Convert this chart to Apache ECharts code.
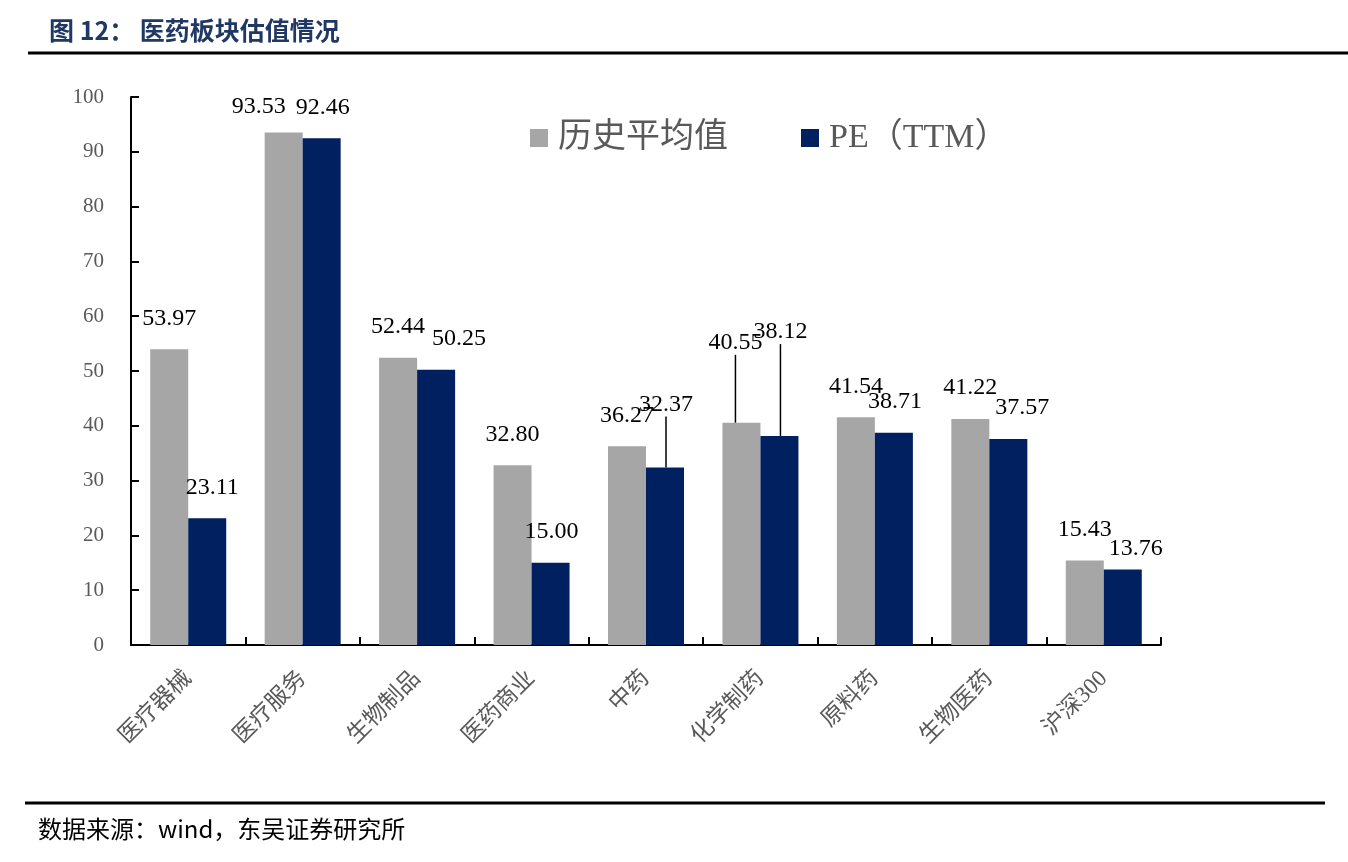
<!DOCTYPE html>
<html>
<head>
<meta charset="utf-8">
<script src="https://cdn.jsdelivr.net/npm/echarts@6/dist/echarts.min.js"></script>
<style>
html,body{margin:0;padding:0;background:#fff;}
#main{width:1348px;height:862px;}
</style>
</head>
<body>
<div id="main"></div>
<script>
var categories = ['医疗器械', '医疗服务', '生物制品', '医药商业', '中药', '化学制药', '原料药', '生物医药', '沪深300'];
var histAvg = [53.97, 93.53, 52.44, 32.80, 36.27, 40.55, 41.54, 41.22, 15.43];
var peTTM = [23.11, 92.46, 50.25, 15.00, 32.37, 38.12, 38.71, 37.57, 13.76];
var seriesNames = ['历史平均值', 'PE（TTM）'];
var yTicks = [0, 10, 20, 30, 40, 50, 60, 70, 80, 90, 100];

// label displacement (layout only)
var labelShift = [
  {dx: [0, -25, 0, 0, 0, -6, 0, 0, 0], dy: [0, 5, 0, 0, 0, -49, 0, 0, 0], line: [0, 0, 0, 0, 0, 1, 0, 0, 0]},
  {dx: [5, 1, 23, 1, 1, 1, 1, 14, 13], dy: [0, 0, 0, 0, -32, -73, 0, 0, 10], line: [0, 0, 0, 0, 1, 1, 0, 0, 0]}
];

var chart = echarts.init(document.getElementById('main'));

function buildData(vals, s) {
  return vals.map(function (v, i) {
    return {value: v, labelLine: {show: !!labelShift[s].line[i]}};
  });
}

var colors = ['#A6A6A6', '#002060'];
var serif = "'Liberation Serif', 'Times New Roman', 'Noto Sans CJK SC', serif";

var series = [histAvg, peTTM].map(function (vals, s) {
  return {
    name: seriesNames[s],
    type: 'bar',
    data: buildData(vals, s),
    barWidth: 38,
    barGap: '0%',
    itemStyle: {color: colors[s]},
    label: {
      show: true,
      position: 'top',
      distance: 19,
      color: '#000',
      fontFamily: serif,
      fontSize: 24,
      formatter: function (p) { return p.value.toFixed(2); }
    },
    labelLine: {show: false, lineStyle: {color: '#000', width: 1.5}},
    labelLayout: function (p) {
      return {dx: labelShift[s].dx[p.dataIndex], dy: labelShift[s].dy[p.dataIndex]};
    }
  };
});

var option = {
  animation: false,
  backgroundColor: '#fff',
  title: {
    text: '图 12： 医药板块估值情况',
    left: 44,
    top: 13,
    textStyle: {color: '#1F3864', fontSize: 25, fontWeight: 'bold', fontFamily: "'Noto Sans CJK SC', sans-serif"}
  },
  legend: {
    left: 525,
    top: 116,
    itemWidth: 18,
    itemHeight: 18,
    itemGap: 73,
    icon: 'rect',
    textStyle: {color: '#595959', fontSize: 34, fontFamily: serif, padding: [0, 0, 0, 5]},
    data: seriesNames
  },
  grid: {left: 131, right: 187, top: 97, bottom: 217},
  xAxis: {
    type: 'category',
    data: categories,
    boundaryGap: true,
    axisLine: {lineStyle: {color: '#000', width: 2}},
    axisTick: {show: true, inside: true, length: 8, interval: 0, lineStyle: {color: '#000', width: 2}},
    axisLabel: {
      interval: 0,
      rotate: 45,
      margin: 30,
      color: '#595959',
      fontSize: 23,
      fontFamily: "'Liberation Serif', 'Noto Sans CJK SC', serif"
    }
  },
  yAxis: {
    type: 'value',
    min: yTicks[0],
    max: yTicks[yTicks.length - 1],
    interval: 10,
    splitLine: {show: false},
    axisLine: {show: true, lineStyle: {color: '#000', width: 2}},
    axisTick: {show: true, inside: true, length: 8, lineStyle: {color: '#000', width: 2}},
    axisLabel: {color: '#595959', fontSize: 21, margin: 27, fontFamily: serif}
  },
  graphic: [
    {type: 'line', shape: {x1: 28, y1: 53, x2: 1348, y2: 53}, style: {stroke: '#000', lineWidth: 3}},
    {type: 'line', shape: {x1: 25, y1: 803, x2: 1325, y2: 803}, style: {stroke: '#000', lineWidth: 3}},
    {type: 'text', left: 38, top: 817, style: {text: '数据来源：wind，东吴证券研究所', fill: '#000', fontSize: 24, fontFamily: "'Noto Sans CJK SC', sans-serif"}}
  ],
  series: series
};

chart.setOption(option);
</script>
</body>
</html>
